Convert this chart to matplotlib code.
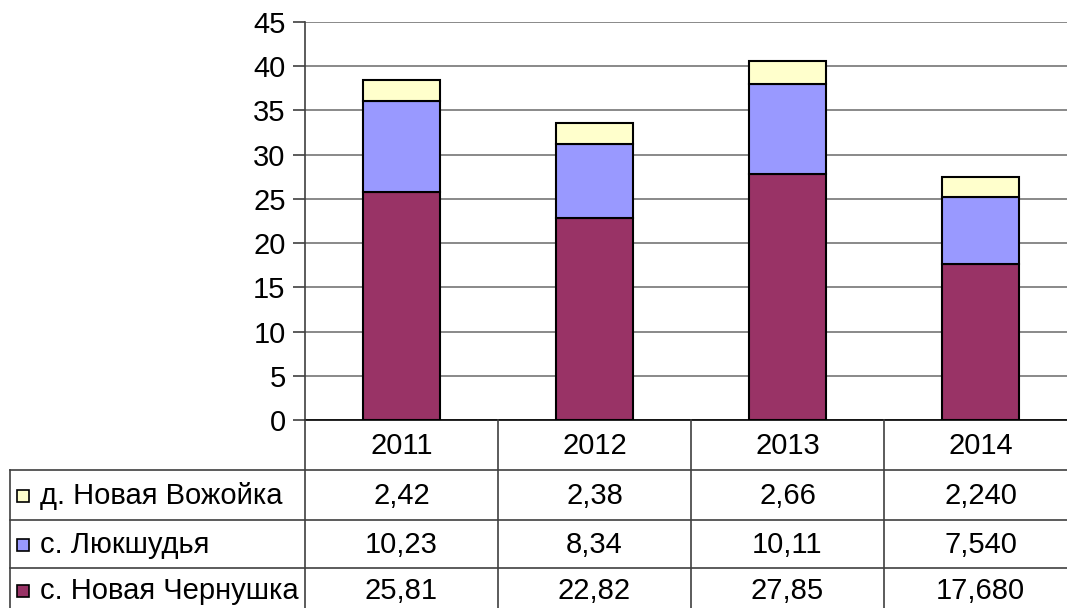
import matplotlib
matplotlib.use("Agg")
import matplotlib.pyplot as plt
from matplotlib.patches import Rectangle

plt.rcParams['font.family'] = ['Liberation Sans', 'DejaVu Sans']

# данные
years = ['2011', '2012', '2013', '2014']
series = ['д. Новая Вожойка', 'с. Люкшудья', 'с. Новая Чернушка']
vozhoyka = [2.42, 2.38, 2.66, 2.240]
lyukshudya = [10.23, 8.34, 10.11, 7.540]
chernushka = [25.81, 22.82, 27.85, 17.680]
decimals = [2, 2, 2, 3]
colors = ['#FFFFCC', '#9999FF', '#993366']

W, H = 1067, 608
fig = plt.figure(figsize=(W / 100, H / 100), dpi=100)

# геометрия в пикселях
x0, colw = 305, 193
y_top, y_zero = 22, 420
rows = [420, 470, 520, 568, 618]
n = len(years)
fs = 21

# 1. столбчатая диаграмма с накоплением
ax = fig.add_axes([x0 / W, 1 - y_zero / H, colw * n / W, (y_zero - y_top) / H])
xs = [i + 0.5 for i in range(n)]
bottom2 = chernushka
bottom3 = [a + b for a, b in zip(chernushka, lyukshudya)]
ax.bar(xs, chernushka, width=0.4, color=colors[2], edgecolor='black', linewidth=1.5, zorder=3)
ax.bar(xs, lyukshudya, width=0.4, bottom=bottom2, color=colors[1], edgecolor='black', linewidth=1.5, zorder=3)
ax.bar(xs, vozhoyka, width=0.4, bottom=bottom3, color=colors[0], edgecolor='black', linewidth=1.5, zorder=3)

ax.set_xlim(0, n)
ax.set_ylim(0, 45)
ax.set_yticks(range(0, 46, 5))
ax.set_xticks([])
ax.yaxis.grid(True, color='#808080', linewidth=1.3, zorder=0)
ax.tick_params(axis='y', labelsize=fs, length=9, width=1.2, pad=5, color='#404040')
for s in ['top', 'right', 'bottom']:
    ax.spines[s].set_visible(False)
ax.spines['left'].set_color('#404040')
ax.spines['left'].set_linewidth(1.2)

# 2. таблица данных под диаграммой
ov = fig.add_axes([0, 0, 1, 1], zorder=5)
ov.set_xlim(0, W)
ov.set_ylim(H, 0)
ov.axis('off')
lc = '#404040'
right = x0 + colw * n
ov.plot([x0, right], [rows[0], rows[0]], color='black', lw=1.2)
for y in rows[1:4]:
    ov.plot([10, right], [y, y], color=lc, lw=1.2)
ov.plot([10, 10], [rows[1], H], color=lc, lw=1.2)
for i in range(n):
    ov.plot([x0 + colw * i] * 2, [rows[0], H], color=lc, lw=1.2)

for i, yr in enumerate(years):
    ov.text(x0 + colw * (i + 0.5), (rows[0] + rows[1]) / 2 + 1, yr, ha='center', va='center', fontsize=fs)

table_vals = [vozhoyka, lyukshudya, chernushka]
for r, (name, vals, c) in enumerate(zip(series, table_vals, colors)):
    yc = min((rows[r + 1] + rows[r + 2]) / 2 + 1, 591)
    ov.add_patch(Rectangle((17, yc - 6), 12, 12, facecolor=c, edgecolor='black', lw=1.2))
    ov.text(40, yc, name, ha='left', va='center', fontsize=fs)
    for i, (v, d) in enumerate(zip(vals, decimals)):
        s = f"{v:.{d}f}".replace('.', ',')
        ov.text(x0 + colw * (i + 0.5), yc, s, ha='center', va='center', fontsize=fs)

fig.savefig('out.png', dpi=100)
